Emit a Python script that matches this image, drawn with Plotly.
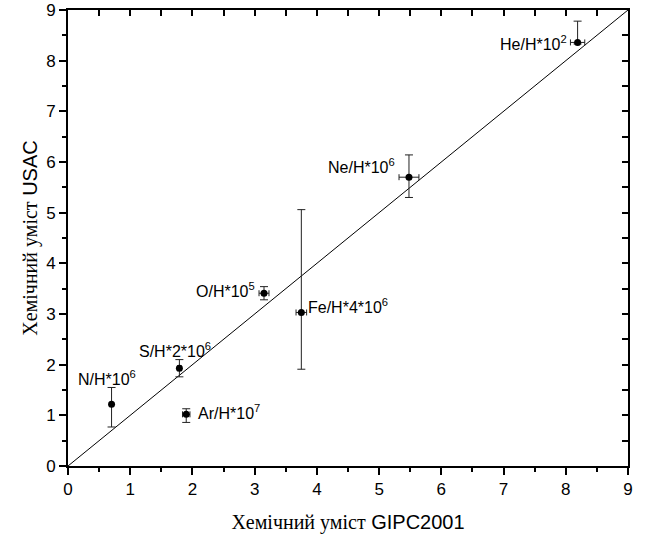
import plotly.graph_objects as go

labels = ["N/H*10<sup>6</sup>", "S/H*2*10<sup>6</sup>", "Ar/H*10<sup>7</sup>", "O/H*10<sup>5</sup>",
          "Fe/H*4*10<sup>6</sup>", "Ne/H*10<sup>6</sup>", "He/H*10<sup>2</sup>"]
x_gipc = [0.70, 1.79, 1.90, 3.15, 3.75, 5.48, 8.19]
y_usac = [1.22, 1.93, 1.02, 3.41, 3.03, 5.70, 8.36]
x_err = [0.0, 0.03, 0.06, 0.08, 0.085, 0.16, 0.115]
y_err_plus = [0.33, 0.17, 0.11, 0.13, 2.03, 0.44, 0.42]
y_err_minus = [0.45, 0.17, 0.16, 0.13, 1.12, 0.40, 0.03]
diag = [0, 9]

# label placement (pixel offsets)
lab_xanchor = ["center", "center", "left", "right", "left", "right", "right"]
lab_xshift = [-5, -4, 10, -7, 5, -12, -9]
lab_yshift = [26, 18, 2, 3, 6, 11, -1]

fig = go.Figure()
fig.add_trace(go.Scatter(x=diag, y=diag, mode="lines", line=dict(color="black", width=1),
                         hoverinfo="skip", showlegend=False))
fig.add_trace(go.Scatter(
    x=x_gipc, y=y_usac, mode="markers",
    marker=dict(color="black", size=7),
    error_y=dict(type="data", symmetric=False, array=y_err_plus, arrayminus=y_err_minus,
                 color="#222", thickness=1, width=4),
    error_x=dict(type="data", array=x_err, color="#222", thickness=1, width=3),
    showlegend=False))
# mirrored axes with inside ticks
fig.add_trace(go.Scatter(x=diag, y=diag, mode="lines", xaxis="x2", yaxis="y2",
                         line=dict(width=0, color="rgba(0,0,0,0)"), hoverinfo="skip", showlegend=False))

for lx, ly, lt, xa, xs, ys in zip(x_gipc, y_usac, labels, lab_xanchor, lab_xshift, lab_yshift):
    fig.add_annotation(x=lx, y=ly, text=lt, showarrow=False, xanchor=xa, yanchor="middle",
                       xshift=xs, yshift=ys,
                       font=dict(family="Liberation Sans, Arial", size=16, color="black"))

axis_common = dict(range=[0, 9], dtick=1, showgrid=False, zeroline=False, automargin=False,
                   showline=True, linecolor="black", linewidth=2, ticklabeloverflow="allow",
                   ticks="outside", ticklen=7, tickwidth=1.5, tickcolor="black",
                   minor=dict(ticks="outside", dtick=0.5, ticklen=4, tickwidth=1.5, tickcolor="black"),
                   tickfont=dict(family="Liberation Sans, Arial", size=17, color="black"))

fig.update_layout(
    width=647, height=536,
    margin=dict(l=68, r=19, t=10, b=70),
    plot_bgcolor="white", paper_bgcolor="white",
    xaxis=dict(**axis_common, mirror=True,
               title=dict(text="<span style='font-family:Liberation Serif'>Хемічний уміст</span> GIPC2001",
                          font=dict(family="Liberation Sans, Arial", size=20, color="black"),
                          standoff=17)),
    yaxis=dict(**axis_common, mirror=True,
               title=dict(text="<span style='font-family:Liberation Serif'>Хемічний уміст</span> USAC",
                          font=dict(family="Liberation Sans, Arial", size=20, color="black"),
                          standoff=3)),
    xaxis2=dict(range=[0, 9], dtick=1, overlaying="x", side="top", showgrid=False, zeroline=False,
                showline=False, showticklabels=False, ticks="inside", ticklen=6, tickwidth=1.5,
                tickcolor="black", anchor="y2", automargin=False,
                minor=dict(ticks="inside", dtick=0.5, ticklen=6, tickwidth=1.5, tickcolor="black")),
    yaxis2=dict(range=[0, 9], dtick=1, overlaying="y", side="right", showgrid=False, zeroline=False,
                showline=False, showticklabels=False, ticks="inside", ticklen=6, tickwidth=1.5,
                tickcolor="black", anchor="x2", automargin=False,
                minor=dict(ticks="inside", dtick=0.5, ticklen=6, tickwidth=1.5, tickcolor="black")),
)

fig.write_html("out.html", config={"displayModeBar": False},
               post_script="document.body.style.margin='0';")
